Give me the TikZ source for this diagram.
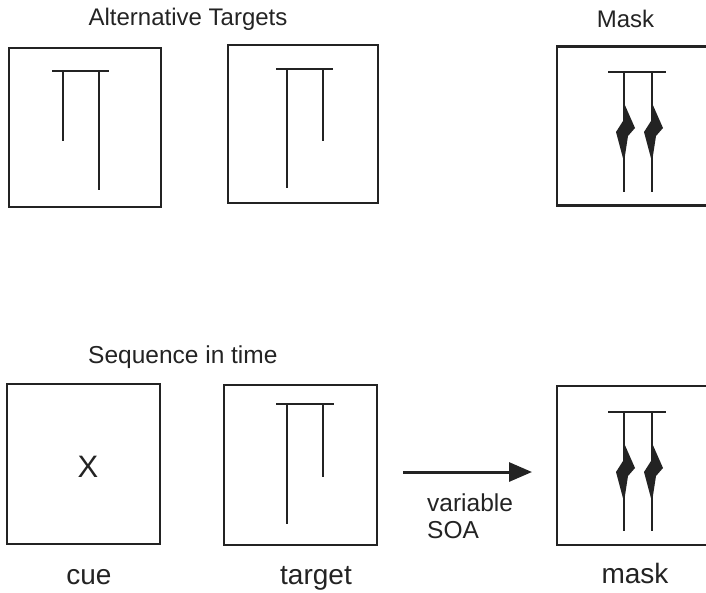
\documentclass[tikz,border=0pt]{standalone}
\usepackage{fontspec}
\setmainfont{Liberation Sans}
\usetikzlibrary{arrows.meta}
\definecolor{ink}{RGB}{35,35,35}

\begin{document}
\begin{tikzpicture}[x=1pt,y=-1pt,
  frame/.style={draw=ink, line width=2.5pt, inner sep=0pt, outer sep=0pt},
  stroke/.style={draw=ink, line width=2.4pt},
  title/.style={inner sep=0pt, anchor=base, text=ink, font=\fontsize{24}{28}\selectfont},
  caption/.style={inner sep=0pt, anchor=base, text=ink, font=\fontsize{28}{32}\selectfont},
  note/.style={inner sep=0pt, anchor=base west, text=ink, font=\fontsize{24.5}{28}\selectfont},
  maskkink/.pic={\fill[ink] (0,0) -- (11,25) -- (4,33) -- (0,59) -- (-8,29) -- (-1,18) -- cycle;}
]
\useasboundingbox (0,0) rectangle (706,592);
\clip (0,0) rectangle (706,592);

% headings
\node[title] (altTitle) at (188,25) {Alternative Targets};
\node[title] (maskTitle) at (625.5,27) {Mask};
\node[title, anchor=base west, font=\fontsize{24.5}{28}\selectfont] (seqTitle) at (88,363) {Sequence in time};

% upper row: the two alternative targets and the mask
\node[frame, minimum width=152pt, minimum height=159pt] (alt1) at (85,127.5) {};
\draw[stroke] (52,71) -- (109,71);
\draw[stroke] (63,71) -- (63,141);
\draw[stroke] (99,71) -- (99,190);

\node[frame, minimum width=150pt, minimum height=158pt] (alt2) at (303,124) {};
\draw[stroke] (276,69) -- (333,69);
\draw[stroke] (287,69) -- (287,188);
\draw[stroke] (323,69) -- (323,141);

% the mask frame runs past the right edge of the page
\node[frame, minimum width=156pt, minimum height=159pt] (maskTop) at (635,126) {};
\draw[stroke] (608,72) -- (666,72);
\draw[stroke] (624,72) -- (624,192);
\draw[stroke] (652,72) -- (652,192);
\pic at (624,103) {maskkink};
\pic at (652,103) {maskkink};

% lower row: cue, target, mask
\node[frame, minimum width=153pt, minimum height=160pt] (cue) at (83.5,464) {};
\node[inner sep=0pt, anchor=base, text=ink, font=\fontsize{31}{34}\selectfont] (cross) at (88,477) {X};

\node[frame, minimum width=153pt, minimum height=160pt] (target) at (300.5,465) {};
\draw[stroke] (276,404) -- (334,404);
\draw[stroke] (287,404) -- (287,524);
\draw[stroke] (323,404) -- (323,477);

\node[frame, minimum width=156pt, minimum height=159pt] (maskBot) at (635,465.5) {};
\draw[stroke] (608,412) -- (666,412);
\draw[stroke] (624,412) -- (624,531);
\draw[stroke] (652,412) -- (652,531);
\pic at (624,443) {maskkink};
\pic at (652,443) {maskkink};

% timing arrow
\coordinate (soaStart) at (403,472);
\coordinate (soaEnd) at (532,472);
\draw[draw=ink, line width=3pt, -{Triangle[length=23pt,width=19pt]}] (soaStart) -- (soaEnd);
\node[note] (variable) at (427,511) {variable};
\node[note] (soa) at (427,538) {SOA};

% labels under the lower row
\node[caption] (cueLabel) at (89,584) {cue};
\node[caption] (targetLabel) at (316,584) {target};
\node[caption] (maskLabel) at (635,583) {mask};
\end{tikzpicture}
\end{document}
